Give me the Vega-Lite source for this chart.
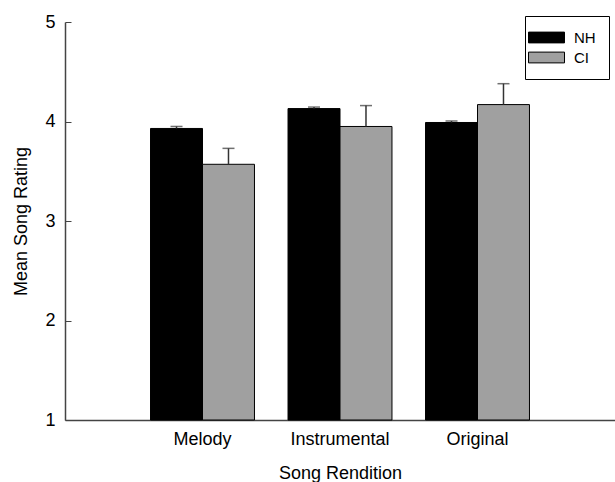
{
  "$schema": "https://vega.github.io/schema/vega-lite/v6.json",
  "width": 550,
  "height": 398,
  "padding": {"left": 65, "top": 22, "right": 0, "bottom": 62},
  "autosize": {"type": "none"},
  "background": "white",
  "config": {
    "view": {"stroke": null},
    "font": "Liberation Sans",
    "axis": {"labelFont": "Liberation Sans", "titleFont": "Liberation Sans", "labelColor": "black", "titleColor": "black", "titleFontWeight": "normal", "grid": false, "domainColor": "#444", "tickColor": "#444"}
  },
  "data": {
    "values": [
      {"rendition": "Melody", "group": "NH", "mean": 3.93, "upper": 3.95},
      {"rendition": "Melody", "group": "CI", "mean": 3.57, "upper": 3.73},
      {"rendition": "Instrumental", "group": "NH", "mean": 4.13, "upper": 4.145},
      {"rendition": "Instrumental", "group": "CI", "mean": 3.95, "upper": 4.16},
      {"rendition": "Original", "group": "NH", "mean": 3.99, "upper": 4.005},
      {"rendition": "Original", "group": "CI", "mean": 4.17, "upper": 4.38}
    ]
  },
  "encoding": {
    "x": {
      "field": "rendition", "type": "nominal",
      "sort": ["Melody", "Instrumental", "Original"],
      "scale": {"paddingInner": 0.244, "paddingOuter": 0.622},
      "axis": {"title": "Song Rendition", "labelAngle": 0, "ticks": false, "labelFontSize": 18, "titleFontSize": 18, "labelPadding": 10, "titlePadding": 16, "domainWidth": 1.5}
    },
    "xOffset": {"field": "group", "type": "nominal", "sort": ["NH", "CI"], "scale": {"paddingInner": 0, "paddingOuter": 0}}
  },
  "layer": [
    {
      "mark": {"type": "bar", "stroke": "black", "strokeWidth": 1, "opacity": 1},
      "encoding": {
        "y": {
          "field": "mean", "type": "quantitative",
          "scale": {"domain": [1, 5], "nice": false, "zero": false},
          "axis": {"title": "Mean Song Rating", "values": [1, 2, 3, 4, 5], "format": "d", "tickSize": -6, "labelPadding": 16, "labelFontSize": 18, "titleFontSize": 18, "titlePadding": 14, "domainWidth": 1.5, "tickWidth": 1}
        },
        "y2": {"datum": 1},
        "fill": {
          "field": "group", "type": "nominal", "sort": ["NH", "CI"],
          "scale": {"domain": ["NH", "CI"], "range": ["black", "#a0a0a0"]},
          "legend": {
            "title": null, "orient": "none", "legendX": 460, "legendY": -6,
            "strokeColor": "black", "fillColor": "white", "padding": 13,
            "symbolType": "M-2.25,-0.675H2.25V0.675H-2.25Z", "symbolSize": 256,
            "symbolStrokeColor": "black", "symbolStrokeWidth": 1, "symbolOpacity": 1,
            "labelFont": "Liberation Sans", "labelFontSize": 15, "labelColor": "black",
            "labelOffset": 19, "rowPadding": 3, "labelLimit": 300,
            "labelExpr": "datum.label + '\u00a0\u00a0\u00a0\u00a0\u00a0\u00a0\u00a0\u00a0'"
          }
        }
      }
    },
    {
      "mark": {"type": "rule", "color": "#333", "strokeWidth": 1.5},
      "encoding": {"y": {"field": "mean", "type": "quantitative"}, "y2": {"field": "upper"}}
    },
    {
      "mark": {"type": "tick", "orient": "horizontal", "color": "#333", "size": 12, "thickness": 1.5},
      "encoding": {"y": {"field": "upper", "type": "quantitative"}}
    }
  ]
}
